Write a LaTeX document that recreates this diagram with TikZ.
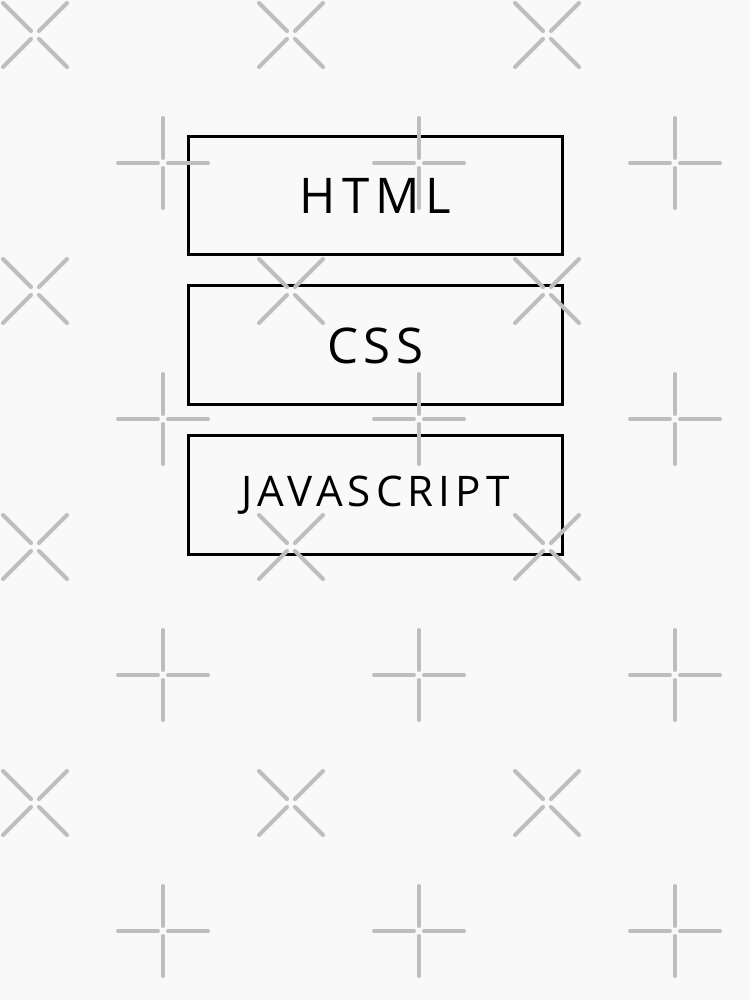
\documentclass[tikz,border=0pt]{standalone}
\usepackage{fontspec}
\newfontfamily\boxfont[LetterSpace=12]{Open Sans}
\definecolor{paper}{RGB}{249,249,249}
\definecolor{mark-grey}{RGB}{190,190,190}
\usetikzlibrary{positioning}

\begin{document}
\begin{tikzpicture}[%
            x=0.02cm,y=-0.02cm,
            langbox/.style={%
              draw,
              line width=1.7pt,
              minimum width=7.5cm,
              minimum height=2.38cm,
              inner sep=0pt,
              outer sep=0pt,
              font=\boxfont\fontsize{28}{30}\selectfont,
            },
            watermark/.style={mark-grey,line width=2.3pt,line cap=round},
            cross/.pic={%
              \draw [watermark] (-32,-32) -- (-4,-4) (4,4) -- (32,32);
              \draw [watermark] (32,-32) -- (4,-4) (-4,4) -- (-32,32);
            },
            plus/.pic={%
              \draw [watermark] (-45,0) -- (-5,0) (5,0) -- (45,0);
              \draw [watermark] (0,-45) -- (0,-5) (0,5) -- (0,45);
            }
          ]
            \fill [paper] (0,0) rectangle (750,1000);
            \useasboundingbox (0,0) rectangle (750,1000);

            \node [langbox] (html) at (375.5,195.5) {HTML};
            \node [langbox,below=0.62cm of html] (css) {CSS};
            \node [%
              langbox,
              font=\boxfont\fontsize{24}{26}\selectfont,
              below=0.62cm of css,
            ] (javascript) {JAVASCRIPT};

            \foreach \x in {35,291,547}
              \foreach \y in {35,291,547,803}
                \pic at (\x,\y) {cross};
            \foreach \x in {163,419,675}
              \foreach \y in {163,419,675,931}
                \pic at (\x,\y) {plus};
          \end{tikzpicture}
\end{document}
